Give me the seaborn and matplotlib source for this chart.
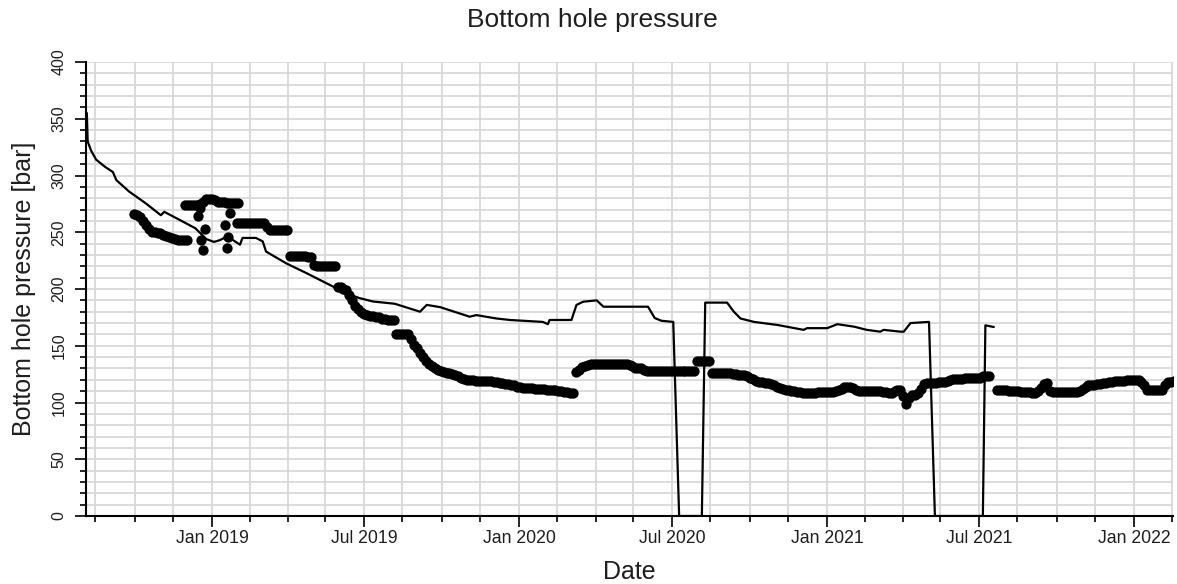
import numpy as np
import pandas as pd
import matplotlib
matplotlib.use("Agg")
import matplotlib.pyplot as plt
import matplotlib.dates as mdates
from matplotlib.ticker import MultipleLocator, FixedLocator
import seaborn as sns

# ---------------- data ----------------
# simulated bottom hole pressure (line)
sim_dates = ['2018-08-05', '2018-08-06', '2018-08-10', '2018-08-16', '2018-08-26', '2018-09-05',
             '2018-09-09', '2018-09-24', '2018-10-14', '2018-11-01', '2018-11-05', '2018-11-23',
             '2018-12-12', '2018-12-25', '2019-01-03', '2019-01-10', '2019-01-18', '2019-01-26',
             '2019-02-03', '2019-02-06', '2019-02-22', '2019-03-02', '2019-03-06', '2019-03-30',
             '2019-04-23', '2019-05-17', '2019-06-10', '2019-06-25', '2019-07-11', '2019-08-06',
             '2019-09-05', '2019-09-13', '2019-09-29', '2019-11-03', '2019-11-11', '2019-12-05',
             '2019-12-21', '2020-01-29', '2020-02-04', '2020-02-06', '2020-03-03', '2020-03-09',
             '2020-03-17', '2020-04-02', '2020-04-10', '2020-06-02', '2020-06-10', '2020-06-18',
             '2020-07-02', '2020-07-09', '2020-08-05', '2020-08-09', '2020-09-04', '2020-09-12',
             '2020-09-20', '2020-10-06', '2020-11-03', '2020-12-04', '2020-12-08', '2021-01-01',
             '2021-01-13', '2021-02-02', '2021-02-17', '2021-03-05', '2021-03-09', '2021-03-29',
             '2021-04-02', '2021-04-10', '2021-05-02', '2021-05-09', '2021-07-05', '2021-07-08',
             '2021-07-18']
sim_bhp = [355, 330, 322, 314, 308, 303,
           296, 286, 275.5, 265, 268, 261,
           253.5, 244, 241.5, 243, 246, 243,
           239, 245, 245, 242, 233, 222.6,
           214, 205, 196, 192, 189, 187,
           180, 186, 184, 175.6, 177, 174,
           172.7, 171, 169, 172.7, 172.7, 186,
           188.8, 190, 184.4, 184.4, 174.4, 172,
           171, 0, 0, 188, 188, 180,
           174, 171, 168.3, 164, 165.5, 165.5,
           169, 166.8, 164, 162.4, 164, 162.4,
           162.4, 170, 171, 0, 0, 168,
           166.5]

# observed bottom hole pressure (dots), half-weekly readings per segment
obs_step = '84h'

obs_a_start = '2018-09-30'
obs_a = [266, 265, 263, 260, 256, 253, 250, 250, 249, 249, 248, 247, 246, 245, 244, 243,
         243, 243, 243]

obs_b_start = '2018-11-30'
obs_b = [274, 274, 274, 274, 274, 275, 277, 279, 279, 279, 278, 277, 277, 277, 276, 276,
         276, 276, 276]

obs_c_start = '2019-01-31'
obs_c = [258, 258, 258, 258, 258, 258, 258, 258, 258, 258, 255, 252, 252, 252, 252, 252,
         252, 252, 229, 229, 229, 229, 229, 229, 228, 228, 221, 220, 220, 220, 220, 220,
         220, 220, 202, 202, 200, 199, 195, 190, 185, 182, 180, 178, 177, 176, 176, 175,
         175, 174, 174, 173, 173, 173, 160, 160, 160, 160, 160, 156, 151, 148, 144, 140,
         137, 134, 132, 130, 129, 128, 127, 126, 126, 125, 124, 123, 122, 121, 120, 120,
         120, 119, 119, 119, 119, 119, 119, 118, 118, 117, 117, 116, 116, 115, 115, 114,
         114, 113, 113, 113, 113, 112, 112, 112, 112, 111, 111, 111, 111, 110, 110, 109,
         109, 108, 108]

obs_d_start = '2020-03-09'
obs_d = [127, 129, 131, 132, 133, 134, 134, 134, 134, 134, 134, 134, 134, 134, 134, 134,
         134, 134, 133, 132, 130, 130, 130, 129, 128, 128, 128, 128, 128, 128, 128, 128,
         128, 128, 128, 128, 128, 128, 128, 128, 128, 137, 137, 137, 137, 137, 126, 126,
         126, 126, 126, 126, 126, 125, 125, 124, 124, 124, 123, 122, 121, 119, 118, 118,
         117, 117, 116, 115, 114, 113, 112, 111, 111, 110, 110, 109, 109, 108, 108, 108,
         108, 108, 109, 109, 109, 109, 109, 109, 110, 111, 112, 114, 114, 114, 113, 111,
         110, 110, 110, 110, 110, 110, 110, 110, 109, 109, 108, 108, 110, 111, 111, 106,
         99, 104, 107, 107, 108, 112, 116, 117, 117, 117, 117, 118, 118, 118, 119, 120,
         121, 121, 121, 121, 122, 122, 122, 122, 122, 122, 123, 123, 123]

obs_e_start = '2021-07-22'
obs_e = [111, 111, 111, 111, 110, 110, 110, 110, 109, 109, 109, 109, 108, 108, 110, 113,
         116, 117, 110, 109, 109, 109, 109, 109, 109, 109, 109, 109, 110, 112, 114, 115,
         115, 115, 116, 116, 117, 117, 118, 118, 119, 119, 119, 119, 120, 120, 120, 120,
         120, 118, 115, 111, 111, 111, 111, 111, 111, 115, 118, 118, 119]

# isolated observed points around the turn of 2018/2019
obs_x_dates = ['2018-12-15', '2018-12-17', '2018-12-23', '2018-12-19', '2018-12-21',
               '2019-01-22', '2019-01-16', '2019-01-20', '2019-01-18']
obs_x = [264, 271, 253, 243, 234,
         267, 256, 246, 236]

# ---------------- build frames ----------------
sim_df = pd.DataFrame({'Date': pd.to_datetime(sim_dates), 'BHP': sim_bhp})

obs_parts = []
for start, vals in [(obs_a_start, obs_a), (obs_b_start, obs_b), (obs_c_start, obs_c),
                    (obs_d_start, obs_d), (obs_e_start, obs_e)]:
    obs_parts.append(pd.DataFrame({'Date': pd.date_range(start, periods=len(vals), freq=obs_step),
                                   'BHP': vals}))
obs_parts.append(pd.DataFrame({'Date': pd.to_datetime(obs_x_dates), 'BHP': obs_x}))
obs_df = pd.concat(obs_parts, ignore_index=True)

# ---------------- plot ----------------
sns.set_theme(style='white')
plt.rcParams['font.family'] = ['Liberation Sans', 'DejaVu Sans']

W, H = 1177, 584
fig = plt.figure(figsize=(W / 100, H / 100), dpi=100)
ax = fig.add_axes([86 / W, 1 - 516 / H, (1173 - 86) / W, (516 - 62) / H])

sns.scatterplot(data=obs_df, x='Date', y='BHP', color='black', s=55, linewidth=0,
                edgecolor='black', ax=ax, zorder=3, legend=False)
sns.lineplot(data=sim_df, x='Date', y='BHP', color='black', linewidth=1.6, ax=ax,
             zorder=4, legend=False)

ax.set_ylim(0, 400)
ax.set_xlim(pd.Timestamp('2018-08-04'), pd.Timestamp('2022-02-16'))

# ticks
ax.xaxis.set_major_locator(mdates.MonthLocator(bymonth=[1, 7]))
ax.xaxis.set_major_formatter(mdates.DateFormatter('%b %Y'))
minor_dates = []
for yr in range(2018, 2023):
    for m, d in [(2, 15), (4, 1), (5, 15), (8, 15), (10, 1), (11, 15)]:
        minor_dates.append(mdates.date2num(pd.Timestamp(yr, m, d)))
ax.xaxis.set_minor_locator(FixedLocator(minor_dates))
ax.yaxis.set_major_locator(MultipleLocator(50))
ax.yaxis.set_minor_locator(MultipleLocator(10))

tick_col = '#1e1e1e'
ax.tick_params(axis='x', which='major', length=7.7, width=1.2, pad=2.5, labelsize=12.7,
               colors='black', labelcolor=tick_col, direction='out', bottom=True)
ax.tick_params(axis='x', which='minor', length=4, width=1.2, direction='out', bottom=True,
               colors='black')
ax.tick_params(axis='y', which='major', length=8, width=1.2, pad=6, labelsize=11.5,
               colors='black', labelcolor=tick_col, direction='out', left=True)
ax.tick_params(axis='y', which='minor', length=4.3, width=1.2, direction='out', left=True,
               colors='black')
for lbl in ax.get_yticklabels():
    lbl.set_rotation(90)
    lbl.set_va('center')
    lbl.set_ha('right')

ax.grid(which='both', color='#d6d6d6', linewidth=1.2)
ax.set_axisbelow(True)

for s in ['top', 'right']:
    ax.spines[s].set_visible(False)
for s in ['left', 'bottom']:
    ax.spines[s].set_color('black')
    ax.spines[s].set_linewidth(1.5)

ax.set_xlabel('Date', fontsize=18, color='#1e1e1e', va='center')
ax.xaxis.set_label_coords(0.5, (516 - 571.7) / 454)
ax.set_ylabel('Bottom hole pressure [bar]', fontsize=18, color='#1e1e1e', va='center')
ax.yaxis.set_label_coords((24 - 86) / 1087, 0.5)

fig.text(592.5 / W, 1 - 19.5 / H, 'Bottom hole pressure', ha='center', va='center',
         fontsize=19, color='#1e1e1e')

fig.savefig('out.png', dpi=100)
